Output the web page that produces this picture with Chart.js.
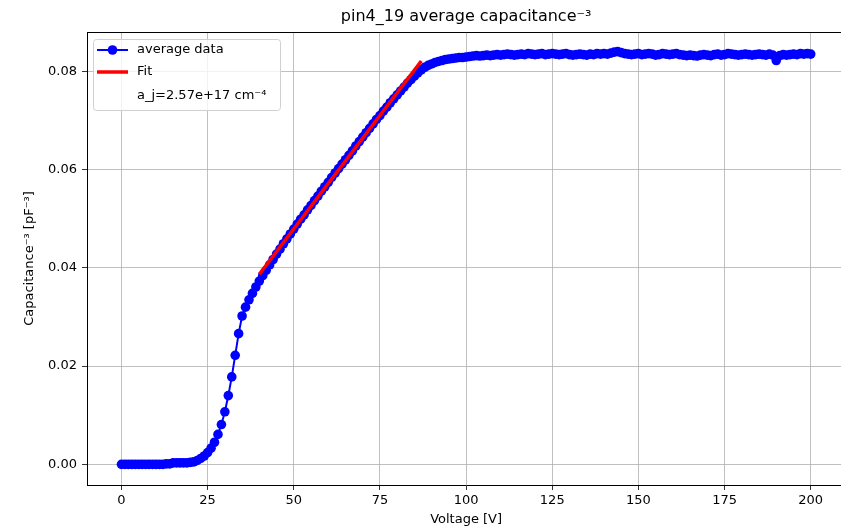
<!DOCTYPE html>
<html>
<head>
<meta charset="utf-8">
<script src="https://cdn.jsdelivr.net/npm/chart.js@4.4.1/dist/chart.umd.min.js"></script>
<style>
  html, body { margin: 0; padding: 0; background: #fff; overflow: hidden; }
  #wrap { width: 850px; height: 528px; }
</style>
</head>
<body>
<div id="wrap"><canvas id="capChart" width="850" height="528"></canvas></div>
<script>
// bias voltage steps [V]
const voltage = [
  0, 1, 2, 3, 4, 5, 6, 7, 8, 9,
  10, 11, 12, 13, 14, 15, 16, 17, 18, 19,
  20, 21, 22, 23, 24, 25, 26, 27, 28, 29,
  30, 31, 32, 33, 34, 35, 36, 37, 38, 39,
  40, 41, 42, 43, 44, 45, 46, 47, 48, 49,
  50, 51, 52, 53, 54, 55, 56, 57, 58, 59,
  60, 61, 62, 63, 64, 65, 66, 67, 68, 69,
  70, 71, 72, 73, 74, 75, 76, 77, 78, 79,
  80, 81, 82, 83, 84, 85, 86, 87, 88, 89,
  90, 91, 92, 93, 94, 95, 96, 97, 98, 99,
  100, 101, 102, 103, 104, 105, 106, 107, 108, 109,
  110, 111, 112, 113, 114, 115, 116, 117, 118, 119,
  120, 121, 122, 123, 124, 125, 126, 127, 128, 129,
  130, 131, 132, 133, 134, 135, 136, 137, 138, 139,
  140, 141, 142, 143, 144, 145, 146, 147, 148, 149,
  150, 151, 152, 153, 154, 155, 156, 157, 158, 159,
  160, 161, 162, 163, 164, 165, 166, 167, 168, 169,
  170, 171, 172, 173, 174, 175, 176, 177, 178, 179,
  180, 181, 182, 183, 184, 185, 186, 187, 188, 189,
  190, 191, 192, 193, 194, 195, 196, 197, 198, 199,
  200
];

// average capacitance^-3 [pF^-3]
const avgCap = [
  0.0000, 0.0000, 0.0000, 0.0000, 0.0000, 0.0000, 0.0000, 0.0000, 0.0000, 0.0000,
  0.0000, 0.0000, 0.0000, 0.0001, 0.0001, 0.0003, 0.0003, 0.0003, 0.0003, 0.0003,
  0.0004, 0.0005, 0.0008, 0.0012, 0.0017, 0.0024, 0.0033, 0.0045, 0.0061, 0.0081,
  0.0107, 0.0140, 0.0178, 0.0222, 0.0266, 0.0302, 0.0320, 0.0335, 0.0348, 0.0361,
  0.0373, 0.0384, 0.0395, 0.0406, 0.0417, 0.0428, 0.0438, 0.0449, 0.0459, 0.0469,
  0.0479, 0.0489, 0.0499, 0.0508, 0.0518, 0.0527, 0.0537, 0.0546, 0.0556, 0.0565,
  0.0574, 0.0584, 0.0593, 0.0602, 0.0611, 0.0620, 0.0629, 0.0638, 0.0648, 0.0657,
  0.0666, 0.0675, 0.0684, 0.0693, 0.0702, 0.0710, 0.0719, 0.0727, 0.0736, 0.0744,
  0.0752, 0.0760, 0.0768, 0.0776, 0.0783, 0.0790, 0.0797, 0.0803, 0.0808, 0.0812,
  0.0815, 0.0818, 0.0820, 0.0822, 0.0824, 0.0825, 0.0826, 0.0827, 0.0828, 0.0828,
  0.0829, 0.0830, 0.0831, 0.0832, 0.0831, 0.0832, 0.0833, 0.0832, 0.0833, 0.0834,
  0.0833, 0.0834, 0.0835, 0.0834, 0.0833, 0.0834, 0.0835, 0.0834, 0.0836, 0.0835,
  0.0834, 0.0835, 0.0836, 0.0834, 0.0835, 0.0836, 0.0835, 0.0834, 0.0835, 0.0836,
  0.0834, 0.0833, 0.0834, 0.0835, 0.0834, 0.0833, 0.0835, 0.0834, 0.0836, 0.0835,
  0.0836, 0.0835, 0.0837, 0.0839, 0.0840, 0.0838, 0.0836, 0.0835, 0.0834, 0.0835,
  0.0836, 0.0834, 0.0835, 0.0836, 0.0835, 0.0833, 0.0834, 0.0836, 0.0835, 0.0834,
  0.0835, 0.0836, 0.0834, 0.0833, 0.0832, 0.0833, 0.0832, 0.0831, 0.0833, 0.0834,
  0.0833, 0.0832, 0.0834, 0.0835, 0.0833, 0.0834, 0.0836, 0.0835, 0.0834, 0.0833,
  0.0834, 0.0835, 0.0834, 0.0833, 0.0834, 0.0835, 0.0834, 0.0833, 0.0835, 0.0833,
  0.0822, 0.0832, 0.0834, 0.0833, 0.0834, 0.0835, 0.0834, 0.0836, 0.0835, 0.0836,
  0.0835
];

// linear fit end points
const fitVoltage = [40, 87];
const fitCap = [0.0387, 0.0821];

const xTicks = [0, 25, 50, 75, 100, 125, 150, 175, 200];
const yTicks = [0.00, 0.02, 0.04, 0.06, 0.08];
const yTickLabels = ["0.00", "0.02", "0.04", "0.06", "0.08"];

const legendLabels = ["average data", "Fit", "a_j=2.57e+17 cm\u207B\u2074"];

const FONT = "'DejaVu Sans', sans-serif";

// top (and right) spine like matplotlib's box
const frame = {
  id: "frame",
  afterDatasetsDraw(chart) {
    const { ctx, chartArea: a } = chart;
    ctx.save();
    ctx.strokeStyle = "#000";
    ctx.lineWidth = 1;
    ctx.beginPath();
    ctx.moveTo(a.left, Math.round(a.top) + 0.5);
    ctx.lineTo(a.right, Math.round(a.top) + 0.5);
    ctx.moveTo(Math.round(a.right) - 0.5, a.top);
    ctx.lineTo(Math.round(a.right) - 0.5, a.bottom);
    ctx.stroke();
    ctx.restore();
  }
};

// legend box in the upper left corner of the axes
const boxLegend = {
  id: "boxLegend",
  afterDraw(chart) {
    const { ctx, chartArea: a } = chart;
    const ds = chart.data.datasets;
    const x0 = a.left + 6, y0 = a.top + 7, w = 187, h = 71;
    ctx.save();
    ctx.beginPath();
    ctx.roundRect(x0 + 0.5, y0 + 0.5, w, h, 3);
    ctx.fillStyle = "rgba(255,255,255,0.8)";
    ctx.fill();
    ctx.strokeStyle = "#d0d0d0";
    ctx.lineWidth = 1;
    ctx.stroke();

    const hx0 = x0 + 4, hx1 = x0 + 35, tx = x0 + 44;
    const rows = [y0 + 11, y0 + 33, y0 + 57];

    // average data: line + marker
    ctx.strokeStyle = ds[1].borderColor;
    ctx.lineWidth = ds[1].borderWidth;
    ctx.beginPath();
    ctx.moveTo(hx0, rows[0]);
    ctx.lineTo(hx1, rows[0]);
    ctx.stroke();
    ctx.fillStyle = ds[1].pointBackgroundColor;
    ctx.beginPath();
    ctx.arc((hx0 + hx1) / 2, rows[0], ds[1].pointRadius, 0, Math.PI * 2);
    ctx.fill();

    // fit: thick line
    ctx.strokeStyle = ds[0].borderColor;
    ctx.lineWidth = ds[0].borderWidth;
    ctx.beginPath();
    ctx.moveTo(hx0, rows[1]);
    ctx.lineTo(hx1, rows[1]);
    ctx.stroke();

    ctx.fillStyle = "#000";
    ctx.font = "13px " + FONT;
    ctx.textBaseline = "middle";
    ctx.textAlign = "left";
    legendLabels.forEach((t, i) => ctx.fillText(t, tx, rows[i]));
    ctx.restore();
  }
};

new Chart(document.getElementById("capChart"), {
  type: "scatter",
  data: {
    datasets: [
      {
        label: legendLabels[1],
        data: fitVoltage.map((v, i) => ({ x: v, y: fitCap[i] })),
        showLine: true,
        borderColor: "#ff0000",
        borderWidth: 3.5,
        pointRadius: 0,
        order: 0
      },
      {
        label: legendLabels[0],
        data: voltage.map((v, i) => ({ x: v, y: avgCap[i] })),
        showLine: true,
        borderColor: "#0000ff",
        borderWidth: 2,
        backgroundColor: "#0000ff",
        pointBackgroundColor: "#0000ff",
        pointBorderColor: "#0000ff",
        pointBorderWidth: 0,
        pointRadius: 4.8,
        order: 1
      }
    ]
  },
  options: {
    responsive: false,
    animation: false,
    devicePixelRatio: 1,
    layout: { padding: { left: 0, right: 1, top: 0, bottom: 0 } },
    plugins: {
      legend: { display: false },
      tooltip: { enabled: false },
      title: {
        display: true,
        fullSize: false,
        text: "pin4_19 average capacitance\u207B\u00B3",
        color: "#000",
        font: { family: FONT, size: 16, weight: "normal" },
        padding: { top: 7, bottom: 5.8 }
      }
    },
    scales: {
      x: {
        type: "linear",
        min: -10,
        max: 210,
        afterFit(scale) { scale.height = 43; },
        afterBuildTicks(scale) { scale.ticks = xTicks.map(v => ({ value: v })); },
        ticks: {
          color: "#000",
          font: { family: FONT, size: 13 },
          padding: 3,
          maxRotation: 0,
          callback: v => String(v)
        },
        grid: { color: "#b0b0b0", lineWidth: 0.8, tickColor: "#000", tickLength: 5 },
        border: { display: true, color: "#000", width: 1 },
        title: {
          display: true,
          text: "Voltage [V]",
          color: "#000",
          font: { family: FONT, size: 13 },
          padding: { top: 0, bottom: 1 }
        }
      },
      y: {
        type: "linear",
        min: -0.0042,
        max: 0.088,
        afterFit(scale) { scale.width = 87; },
        afterBuildTicks(scale) { scale.ticks = yTicks.map(v => ({ value: v })); },
        ticks: {
          color: "#000",
          font: { family: FONT, size: 13 },
          padding: 5,
          callback: (v, i) => yTickLabels[i]
        },
        grid: { color: "#b0b0b0", lineWidth: 0.8, tickColor: "#000", tickLength: 5 },
        border: { display: true, color: "#000", width: 1 },
        title: {
          display: true,
          text: "Capacitance\u207B\u00B3 [pF\u207B\u00B3]",
          color: "#000",
          font: { family: FONT, size: 13 },
          padding: { top: 22, bottom: 0 }
        }
      }
    }
  },
  plugins: [frame, boxLegend]
});
</script>
</body>
</html>
